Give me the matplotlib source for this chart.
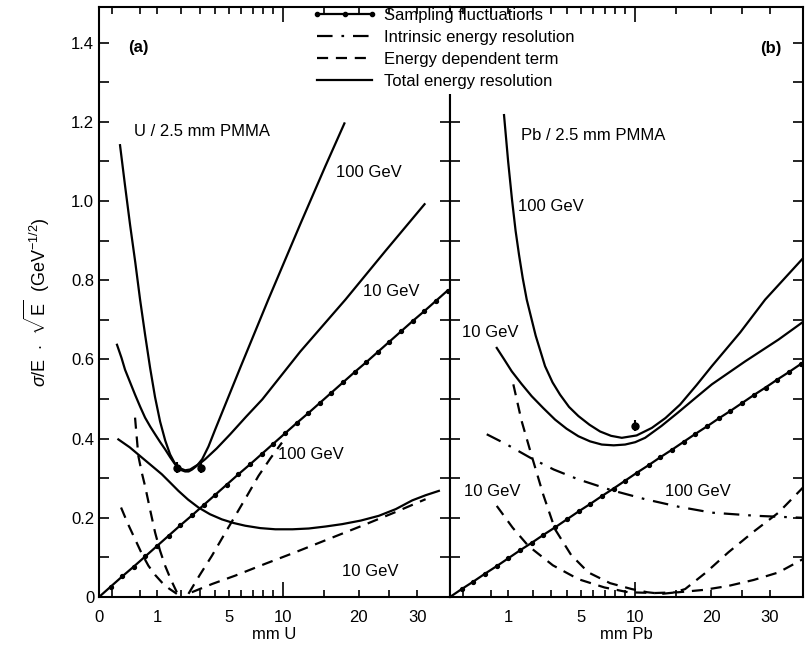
import numpy as np
import matplotlib
matplotlib.use('Agg')
import matplotlib.pyplot as plt
from matplotlib.lines import Line2D
from matplotlib.patches import Rectangle
from matplotlib.ticker import FixedLocator, FixedFormatter

plt.rcParams['font.family'] = ['Liberation Sans', 'DejaVu Sans']
plt.rcParams['mathtext.fontset'] = 'custom'
plt.rcParams['mathtext.rm'] = 'Liberation Sans'
plt.rcParams['mathtext.it'] = 'Liberation Sans:italic'
plt.rcParams['mathtext.sf'] = 'Liberation Sans'

# ---- panel (a): U / 2.5 mm PMMA ----
samp_a_d = [0, 0.04, 0.16, 0.36, 0.64, 1.0, 1.44, 1.96, 2.56, 3.24, 4.0, 4.84, 5.76, 6.76, 7.84, 9.0,
            10.24, 11.56, 12.96, 14.44, 16.0, 17.64, 19.36, 21.16, 23.04, 25.0, 27.04, 29.16, 31.36, 33.64, 36.0]
samp_a_y = [0, .026, .052, .077, .103, .129, .155, .181, .206, .232, .258, .284, .310, .335, .361, .387,
            .413, .439, .464, .490, .516, .542, .568, .593, .619, .645, .671, .697, .722, .748, .774]

tot100_a_d = [0.131, 0.20, 0.286, 0.39, 0.50, 0.63, 0.773, 0.93, 1.106, 1.30, 1.498, 1.68, 1.855, 2.03,
              2.198, 2.38, 2.571, 2.85, 3.154, 3.55, 4.0, 5.91, 8.49, 12.01, 15.18, 17.84]
tot100_a_y = [1.141, 1.04, 0.940, 0.845, 0.751, 0.662, 0.579, 0.505, 0.443, 0.395, 0.360, 0.340, 0.327, 0.320,
              0.317, 0.317, 0.322, 0.332, 0.348, 0.380, 0.423, 0.579, 0.751, 0.942, 1.088, 1.196]

tot10_a_d = [0.096, 0.15, 0.201, 0.29, 0.385, 0.50, 0.629, 0.78, 0.932, 1.11, 1.295, 1.50, 1.717, 1.95,
             2.198, 2.46, 2.739, 3.04, 3.34, 4.1, 5.10, 6.4, 7.90, 12.01, 17.99, 24.31, 31.40]
tot10_a_y = [0.637, 0.604, 0.574, 0.541, 0.511, 0.481, 0.453, 0.430, 0.411, 0.391, 0.373, 0.353, 0.335, 0.325,
             0.320, 0.322, 0.330, 0.338, 0.348, 0.375, 0.411, 0.455, 0.499, 0.620, 0.751, 0.874, 0.992]

low_a_d = [0.111, 0.28, 0.50, 0.80, 1.169, 1.50, 1.869, 2.35, 2.931, 3.65, 4.476, 5.35, 6.336, 7.7, 9.21,
           11.1, 13.03, 15.2, 17.51, 20.3, 23.19, 26.1, 29.07, 31.6, 34.22]
low_a_y = [0.398, 0.378, 0.356, 0.333, 0.310, 0.289, 0.268, 0.246, 0.226, 0.209, 0.196, 0.187, 0.180, 0.174, 0.171,
           0.171, 0.173, 0.178, 0.184, 0.193, 0.205, 0.222, 0.244, 0.257, 0.268]

dash100L_a_d = [0.385, 0.459, 0.54, 0.629, 0.78, 0.932, 1.10, 1.295, 1.53, 1.795]
dash100L_a_y = [0.453, 0.356, 0.315, 0.280, 0.218, 0.163, 0.118, 0.079, 0.044, 0.012]
dash10L_a_d = [0.144, 0.25, 0.385, 0.54, 0.723, 0.93, 1.169, 1.46, 1.795]
dash10L_a_y = [0.226, 0.184, 0.146, 0.110, 0.079, 0.056, 0.037, 0.021, 0.008]
dash100R_a_d = [2.37, 3.0, 3.775, 4.6, 5.50, 6.5, 7.54, 8.7, 9.92]
dash100R_a_y = [0.008, 0.055, 0.104, 0.155, 0.205, 0.256, 0.306, 0.350, 0.390]
dash10R_a_d = [2.55, 3.8, 5.50, 8.2, 11.42, 15.7, 20.51, 25.8, 31.6]
dash10R_a_y = [0.012, 0.033, 0.054, 0.084, 0.113, 0.147, 0.180, 0.213, 0.247]

meas_a_d = [1.79, 3.09]
meas_a_y = [0.327, 0.327]

# ---- panel (b): Pb / 2.5 mm PMMA ----
samp_b_d = samp_a_d
samp_b_y = [0, .020, .039, .059, .078, .098, .118, .137, .157, .176, .196, .216, .235, .255, .274, .294,
            .314, .333, .353, .372, .392, .412, .431, .451, .470, .490, .510, .529, .549, .568, .588]

tot100_b_d = [0.855, 0.99, 1.127, 1.26, 1.396, 1.55, 1.725, 2.15, 2.646, 3.08, 3.548, 4.15, 4.827, 5.7, 6.597,
              7.6, 8.645, 10.2, 11.93, 13.6, 15.51, 17.8, 20.08, 24.66, 29.09, 36.54]
tot100_b_y = [1.217, 1.100, 1.003, 0.925, 0.864, 0.805, 0.751, 0.660, 0.583, 0.542, 0.511, 0.480, 0.457, 0.435, 0.418,
              0.407, 0.402, 0.408, 0.427, 0.452, 0.486, 0.535, 0.583, 0.668, 0.751, 0.856]

tot10_b_d = [0.640, 0.86, 1.116, 1.50, 1.957, 2.55, 3.233, 3.98, 4.827, 5.75, 6.748, 7.85, 8.98, 10.05, 11.15,
             13.1, 15.24, 17.6, 20.08, 25.51, 31.6, 36.54]
tot10_b_y = [0.629, 0.600, 0.570, 0.538, 0.507, 0.477, 0.448, 0.425, 0.406, 0.393, 0.385, 0.383, 0.385, 0.391, 0.402,
             0.432, 0.466, 0.502, 0.537, 0.595, 0.650, 0.695]

intr_b_d = [0.395, 0.95, 1.877, 3.15, 4.827, 7.6, 11.15, 15.3, 20.08, 27.5, 36.54]
intr_b_y = [0.411, 0.385, 0.352, 0.322, 0.297, 0.270, 0.247, 0.228, 0.213, 0.205, 0.200]

dash100_b_d = [1.175, 1.50, 1.957, 2.55, 3.233, 4.3, 5.61, 7.5, 9.68, 11.4, 13.14, 14.6, 16.19, 19.2, 22.71,
               27.0, 31.6, 36.54]
dash100_b_y = [0.537, 0.445, 0.356, 0.258, 0.171, 0.106, 0.062, 0.035, 0.020, 0.012, 0.008, 0.011, 0.020, 0.062, 0.113,
               0.165, 0.213, 0.277]
dash10_b_d = [0.640, 1.15, 1.798, 3.1, 4.827, 7.0, 9.32, 12.2, 15.28, 18.9, 22.71, 27.0, 31.6, 36.54]
dash10_b_y = [0.230, 0.175, 0.129, 0.080, 0.045, 0.024, 0.012, 0.010, 0.012, 0.018, 0.028, 0.043, 0.062, 0.096]

meas_b_d = [10.0]
meas_b_y = [0.433]

xtick_minor = [0.05, 0.5, 1, 2, 3, 4, 5, 6, 7, 8, 9, 15, 20, 25, 30]
xtick_labels_a = {0: '0', 1: '1', 5: '5', 10: '10', 20: '20', 30: '30'}
xtick_labels_b = {1: '1', 5: '5', 10: '10', 20: '20', 30: '30'}

fig = plt.figure(figsize=(8.06, 6.51), dpi=100)
axA = fig.add_axes([99/806, 1-597/651, 351/806, 590/651])
axB = fig.add_axes([450/806, 1-597/651, 353/806, 590/651])

fwd = lambda x: np.sqrt(np.clip(x, 0, None))
inv = lambda x: np.asarray(x)**2

lw = 1.6
dash = (0, (5, 3.5))
dashdot = (0, (7, 4, 1.2, 4))

def style_axis(ax, labels):
    ax.set_xscale('function', functions=(fwd, inv))
    ax.set_xlim(0, 36.5)
    ax.set_ylim(0, 1.49)
    for sp in ax.spines.values():
        sp.set_linewidth(1.5)
    ax.xaxis.set_major_locator(FixedLocator([10]))
    ax.xaxis.set_major_formatter(FixedFormatter(['10']))
    mins = [0] + xtick_minor if 0 in labels else xtick_minor
    ax.xaxis.set_minor_locator(FixedLocator(mins))
    ax.xaxis.set_minor_formatter(FixedFormatter([labels.get(m, '') for m in mins]))
    ax.tick_params(axis='x', which='major', direction='in', length=11, width=1.2,
                   top=True, bottom=True, labelsize=12, pad=9)
    ax.tick_params(axis='x', which='minor', direction='in', length=5, width=1.2,
                   top=True, bottom=True, labelsize=12, pad=9)
    ax.set_yticks(np.arange(0, 1.45, 0.1))
    ax.tick_params(axis='y', which='major', direction='in', length=7, width=1.2,
                   left=True, right=True, labelsize=12)

style_axis(axA, xtick_labels_a)
style_axis(axB, xtick_labels_b)

axA.set_yticklabels(['0', '', '0.2', '', '0.4', '', '0.6', '', '0.8', '', '1.0', '', '1.2', '', '1.4'])
axB.set_yticklabels([])

# panel (a)
axA.plot(samp_a_d, samp_a_y, color='black', lw=lw, marker='o', ms=2.8)
axA.plot(tot100_a_d, tot100_a_y, color='black', lw=lw)
axA.plot(tot10_a_d, tot10_a_y, color='black', lw=lw)
axA.plot(low_a_d, low_a_y, color='black', lw=lw)
for xs, ys in [(dash100L_a_d, dash100L_a_y), (dash10L_a_d, dash10L_a_y),
               (dash100R_a_d, dash100R_a_y), (dash10R_a_d, dash10R_a_y)]:
    axA.plot(xs, ys, color='black', lw=lw, linestyle=dash)
axA.errorbar(meas_a_d, meas_a_y, yerr=0.015, fmt='o', color='black', ms=5, elinewidth=1.5, capsize=0)

axA.text(0.452, 1.388, '(a)', fontsize=12, fontweight='bold', ha='center', va='center')
axA.text(3.15, 1.176, 'U / 2.5 mm PMMA', fontsize=12, ha='center', va='center')
axA.text(21.5, 1.073, '100 GeV', fontsize=12, ha='center', va='center')
axA.text(25.3, 0.771, '10 GeV', fontsize=12, ha='center', va='center')
axA.text(13.36, 0.360, '100 GeV', fontsize=12, ha='center', va='center')
axA.text(21.8, 0.065, '10 GeV', fontsize=12, ha='center', va='center')
axA.set_xlabel('mm U', fontsize=12, labelpad=2)
axA.set_ylabel(r'$\sigma$/E  $\cdot$  $\sqrt{\mathrm{E}}$  (GeV$^{-1/2}$)', fontsize=13, labelpad=14)

# panel (b)
axB.plot(samp_b_d, samp_b_y, color='black', lw=lw, marker='o', ms=2.8)
axB.plot(tot100_b_d, tot100_b_y, color='black', lw=lw)
axB.plot(tot10_b_d, tot10_b_y, color='black', lw=lw)
axB.plot(intr_b_d, intr_b_y, color='black', lw=lw, linestyle=dashdot)
axB.plot(dash100_b_d, dash100_b_y, color='black', lw=lw, linestyle=dash)
axB.plot(dash10_b_d, dash10_b_y, color='black', lw=lw, linestyle=dash)
axB.errorbar(meas_b_d, meas_b_y, yerr=0.015, fmt='o', color='black', ms=5, elinewidth=1.5, capsize=0)

axB.text(30.2, 1.385, '(b)', fontsize=12, fontweight='bold', ha='center', va='center')
axB.text(6.0, 1.166, 'Pb / 2.5 mm PMMA', fontsize=12, ha='center', va='center')
axB.text(2.99, 0.985, '100 GeV', fontsize=12, ha='center', va='center')
axB.text(0.469, 0.667, '10 GeV', fontsize=12, ha='center', va='center')
axB.text(0.517, 0.267, '10 GeV', fontsize=12, ha='center', va='center')
axB.text(18.0, 0.267, '100 GeV', fontsize=12, ha='center', va='center')
axB.set_xlabel('mm Pb', fontsize=12, labelpad=2)

# white strip hiding the shared spine (and its ticks) behind the legend text
fig.patches.append(Rectangle((438/806, 1-94/651), 24/806, 82/651, transform=fig.transFigure,
                             facecolor='white', edgecolor='none', zorder=5))

handles = [
    Line2D([], [], color='black', lw=lw, marker='o', ms=3),
    Line2D([], [], color='black', lw=lw, linestyle=dashdot),
    Line2D([], [], color='black', lw=lw, linestyle=dash),
    Line2D([], [], color='black', lw=lw),
]
names = ['Sampling fluctuations', 'Intrinsic energy resolution', 'Energy dependent term', 'Total energy resolution']
leg = fig.legend(handles, names, loc='upper left', bbox_to_anchor=(309/806, 1 - 5/651), frameon=False,
                 fontsize=12, numpoints=3, handlelength=3.9, handletextpad=0.4, labelspacing=0.42,
                 borderaxespad=0, borderpad=0.2)
leg.set_zorder(10)

fig.savefig('out.png', dpi=100)
